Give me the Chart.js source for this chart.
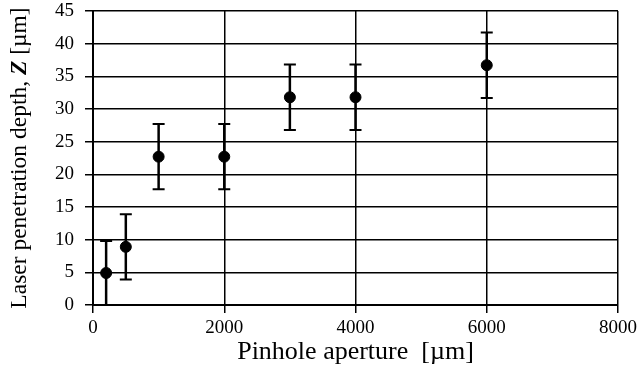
<!DOCTYPE html>
<html>
<head>
<meta charset="utf-8">
<script src="https://cdn.jsdelivr.net/npm/chart.js@4"></script>
<style>
  html, body { margin: 0; padding: 0; background: #fff; }
  #wrap { width: 637px; height: 382px; position: relative; }
</style>
</head>
<body>
<div id="wrap"><canvas id="chart"></canvas></div>
<script>
// Pinhole aperture [µm]
const apertures = [200, 500, 1000, 2000, 3000, 4000, 6000];
// Laser penetration depth Z [µm]
const depths = [4.9, 8.9, 22.7, 22.7, 31.8, 31.8, 36.7];
// +/- error
const errors = [4.9, 5, 5, 5, 5, 5, 5];

const xTicks = [0, 2000, 4000, 6000, 8000];
const yTicks = [0, 5, 10, 15, 20, 25, 30, 35, 40, 45];

const FONT = "'Liberation Serif', 'Times New Roman', serif";

// error bars drawn on top of the points
const errorBars = {
    id: 'errorBars',
    afterDatasetsDraw(chart) {
        const ctx = chart.ctx;
        const xs = chart.scales.x;
        const ys = chart.scales.y;
        ctx.save();
        ctx.strokeStyle = '#000';
        apertures.forEach((a, i) => {
            const px = xs.getPixelForValue(a);
            const top = ys.getPixelForValue(depths[i] + errors[i]);
            const bot = ys.getPixelForValue(depths[i] - errors[i]);
            ctx.lineWidth = 2.5;
            ctx.beginPath();
            ctx.moveTo(px, top);
            ctx.lineTo(px, bot);
            ctx.stroke();
            ctx.lineWidth = 2;
            ctx.beginPath();
            ctx.moveTo(px - 6, top);
            ctx.lineTo(px + 6, top);
            ctx.moveTo(px - 6, bot);
            ctx.lineTo(px + 6, bot);
            ctx.stroke();
        });
        ctx.restore();
    }
};

// y title with bold italic Z
const yTitle = {
    id: 'yTitle',
    afterDraw(chart) {
        const ctx = chart.ctx;
        const area = chart.chartArea;
        const parts = [
            { t: 'Laser penetration depth, ', f: '23.5px ' + FONT },
            { t: 'Z', f: 'italic bold 23.5px ' + FONT },
            { t: ' [µm]', f: '23.5px ' + FONT }
        ];
        let total = 0;
        parts.forEach(p => { ctx.font = p.f; p.w = ctx.measureText(p.t).width; total += p.w; });
        ctx.save();
        ctx.translate(20, (area.top + area.bottom) / 2);
        ctx.rotate(-Math.PI / 2);
        ctx.fillStyle = '#000';
        ctx.textBaseline = 'middle';
        let x = -total / 2;
        parts.forEach(p => {
            ctx.font = p.f;
            ctx.fillText(p.t, x, 0);
            x += p.w;
        });
        ctx.restore();
    }
};

const ctx = document.getElementById('chart').getContext('2d');
new Chart(ctx, {
    type: 'scatter',
    data: {
        datasets: [{
            data: apertures.map((a, i) => ({ x: a, y: depths[i] })),
            backgroundColor: '#000',
            borderColor: '#000',
            pointRadius: 5.5,
            pointHoverRadius: 5.5
        }]
    },
    options: {
        responsive: true,
        maintainAspectRatio: false,
        animation: false,
        layout: { padding: { left: 0, right: 19, top: 11, bottom: 0 } },
        plugins: {
            legend: { display: false },
            tooltip: { enabled: false }
        },
        scales: {
            x: {
                type: 'linear',
                min: 0,
                max: 8000,
                afterBuildTicks: s => { s.ticks = xTicks.map(v => ({ value: v })); },
                afterFit: s => { s.height = 77; s.paddingLeft = 0; s.paddingRight = 0; },
                grid: { color: '#000', lineWidth: 1.5, tickLength: 8, tickColor: '#000' },
                border: { color: '#000', width: 2 },
                ticks: {
                    color: '#000',
                    font: { family: FONT, size: 19 },
                    padding: 4,
                    callback: v => String(v)
                },
                title: {
                    display: true,
                    text: 'Pinhole aperture  [µm]',
                    color: '#000',
                    font: { family: FONT, size: 26 },
                    padding: { top: 0, bottom: 14 }
                }
            },
            y: {
                min: 0,
                max: 45,
                afterBuildTicks: s => { s.ticks = yTicks.map(v => ({ value: v })); },
                afterFit: s => { s.width = 93; s.paddingTop = 0; s.paddingBottom = 0; },
                grid: { color: '#000', lineWidth: 1.5, tickLength: 8, tickColor: '#000' },
                border: { color: '#000', width: 2 },
                ticks: {
                    color: '#000',
                    font: { family: FONT, size: 19 },
                    padding: 11,
                    callback: v => String(v)
                }
            }
        }
    },
    plugins: [errorBars, yTitle]
});
</script>
</body>
</html>
